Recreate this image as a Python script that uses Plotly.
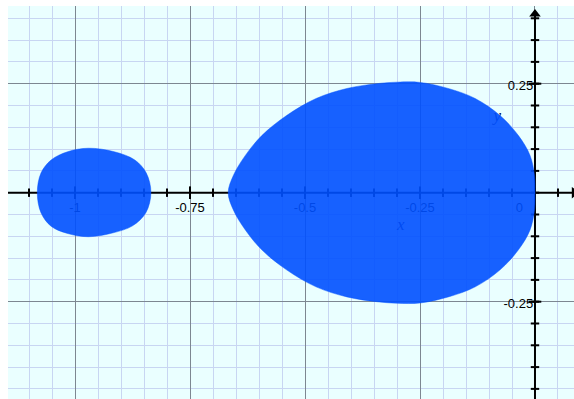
import plotly.graph_objects as go

# ---- region boundaries (upper and lower arcs, left to right) ----
big_upper_x = [-0.667, -0.656, -0.630, -0.594, -0.540, -0.476, -0.409, -0.344, -0.300,
               -0.250, -0.185, -0.130, -0.076, -0.036, -0.011, -0.001, 0.0]
big_upper_y = [0.0, 0.039, 0.085, 0.131, 0.177, 0.216, 0.239, 0.250, 0.2535,
               0.253, 0.238, 0.216, 0.177, 0.131, 0.086, 0.039, 0.0]
big_lower_x = [-0.667, -0.656, -0.630, -0.594, -0.540, -0.476, -0.409, -0.344, -0.300,
               -0.250, -0.185, -0.130, -0.076, -0.036, -0.011, -0.001, 0.0]
big_lower_y = [0.0, -0.039, -0.085, -0.131, -0.177, -0.216, -0.239, -0.250, -0.2535,
               -0.253, -0.238, -0.216, -0.177, -0.131, -0.086, -0.039, 0.0]

small_upper_x = [-1.082, -1.074, -1.052, -1.016, -0.971, -0.915, -0.870, -0.845, -0.835]
small_upper_y = [0.0, 0.045, 0.075, 0.094, 0.102, 0.094, 0.075, 0.045, 0.0]
small_lower_x = [-1.082, -1.074, -1.052, -1.018, -0.971, -0.917, -0.875, -0.846, -0.835]
small_lower_y = [0.0, -0.046, -0.077, -0.093, -0.101, -0.092, -0.076, -0.046, 0.0]

# ---- axis decorations ----
x_range = [-1.1457, 0.0848]
y_range = [-0.4732, 0.4282]
x_minor_ticks = [round(-1.10 + 0.05 * i, 2) for i in range(24)]
x_major_ticks = [-1.0, -0.75, -0.5, -0.25, 0.0]
x_tick_labels = ["-1", "-0.75", "-0.5", "-0.25", "0"]
y_minor_ticks = [round(-0.45 + 0.05 * i, 2) for i in range(18)]
y_major_ticks = [-0.25, 0.25]
y_tick_labels = ["-0.25", "0.25"]

FILL = "rgba(0,80,255,0.9)"
LABEL_FONT = dict(family="Liberation Sans, Arial, sans-serif", size=13, color="black")

fig = go.Figure()

# axis lines through the origin
fig.add_trace(go.Scatter(x=x_range, y=[0, 0], mode="lines",
                         line=dict(color="black", width=2), hoverinfo="skip"))
fig.add_trace(go.Scatter(x=[0, 0], y=[y_range[0], 0.412], mode="lines",
                         line=dict(color="black", width=2), hoverinfo="skip"))

# tick marks on the axes
fig.add_trace(go.Scatter(x=x_minor_ticks, y=[0] * len(x_minor_ticks), mode="markers",
                         marker=dict(symbol="line-ns", size=6, line=dict(color="black", width=2)),
                         hoverinfo="skip"))
fig.add_trace(go.Scatter(x=x_major_ticks[:-1], y=[0] * (len(x_major_ticks) - 1), mode="markers",
                         marker=dict(symbol="line-ns", size=9, line=dict(color="black", width=2)),
                         hoverinfo="skip"))
fig.add_trace(go.Scatter(x=[0] * len(y_minor_ticks), y=y_minor_ticks, mode="markers",
                         marker=dict(symbol="line-ew", size=6, line=dict(color="black", width=2)),
                         hoverinfo="skip"))
fig.add_trace(go.Scatter(x=[0] * len(y_major_ticks), y=y_major_ticks, mode="markers",
                         marker=dict(symbol="line-ew", size=9, line=dict(color="black", width=2)),
                         hoverinfo="skip"))

# arrow heads
fig.add_trace(go.Scatter(x=[0], y=[0.410], mode="markers",
                         marker=dict(symbol="triangle-up", size=10, color="black"),
                         hoverinfo="skip"))
fig.add_trace(go.Scatter(x=[0.0855], y=[0], mode="markers",
                         marker=dict(symbol="triangle-right", size=10, color="black"),
                         hoverinfo="skip"))

# tick labels
fig.add_trace(go.Scatter(x=x_major_ticks[:-1], y=[-0.0374] * 4, mode="text",
                         text=x_tick_labels[:-1], textposition="middle center",
                         textfont=LABEL_FONT, hoverinfo="skip"))
fig.add_trace(go.Scatter(x=[-0.026], y=[-0.0374], mode="text",
                         text=[x_tick_labels[-1]], textposition="middle left",
                         textfont=LABEL_FONT, hoverinfo="skip"))
fig.add_trace(go.Scatter(x=[-0.004, -0.004], y=[-0.258, 0.244], mode="text",
                         text=y_tick_labels, textposition="middle left",
                         textfont=LABEL_FONT, hoverinfo="skip"))

# axis names
TITLE_FONT = dict(family="Liberation Serif, DejaVu Serif, serif", size=17,
                  color="rgb(10,20,100)", style="italic")
fig.add_trace(go.Scatter(x=[-0.292], y=[-0.0766], mode="text", text=["x"],
                         textposition="middle center", textfont=TITLE_FONT, hoverinfo="skip"))
fig.add_trace(go.Scatter(x=[-0.082], y=[0.174], mode="text", text=["y"],
                         textposition="middle center", textfont=TITLE_FONT, hoverinfo="skip"))

# shaded regions
for ux, uy, lx, ly in [(big_upper_x, big_upper_y, big_lower_x, big_lower_y),
                       (small_upper_x, small_upper_y, small_lower_x, small_lower_y)]:
    px = ux + lx[::-1][1:]
    py = uy + ly[::-1][1:]
    fig.add_trace(go.Scatter(x=px, y=py, mode="lines", fill="toself",
                             fillcolor=FILL,
                             line=dict(color=FILL, width=0.5, shape="spline", smoothing=1),
                             hoverinfo="skip"))

grid_axis = dict(showticklabels=False, ticks="", zeroline=False, showline=False,
                 tick0=0, dtick=0.25, gridcolor="rgb(125,135,145)", gridwidth=1,
                 minor=dict(dtick=0.05, showgrid=True, gridcolor="rgb(200,214,242)", gridwidth=1))

fig.update_layout(
    width=574, height=399,
    margin=dict(l=8, r=0, t=6, b=0),
    paper_bgcolor="white",
    plot_bgcolor="rgb(234,255,255)",
    showlegend=False,
    xaxis=dict(range=x_range, **grid_axis),
    yaxis=dict(range=y_range, **grid_axis),
)

fig.write_html("out.html")
